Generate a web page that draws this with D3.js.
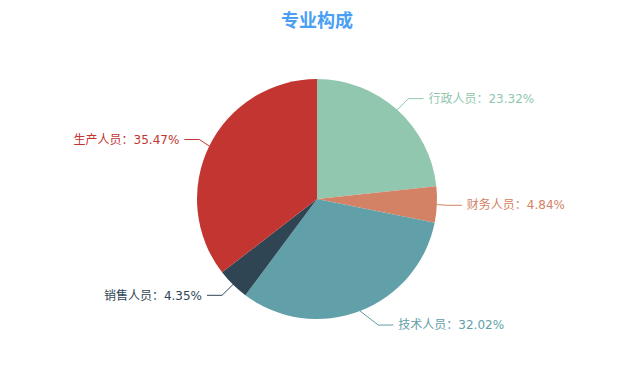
<!DOCTYPE html>
<html>
<head>
<meta charset="utf-8">
<script src="https://cdn.jsdelivr.net/npm/d3@7"></script>
<style>
  body { margin: 0; background: #fff; }
  svg { display: block; font-family: "DejaVu Sans", "Noto Sans CJK SC", sans-serif; }
</style>
</head>
<body>
<div id="chart"></div>
<script>
// chart data, clockwise from 12 o'clock
const names = ["行政人员", "财务人员", "技术人员", "销售人员", "生产人员"];
const shares = [23.32, 4.84, 32.02, 4.35, 35.47];
const colors = ["#91c7ae", "#d48265", "#61a0a8", "#2f4554", "#c23531"];

const width = 618;
const height = 382;
const cx = 317, cy = 199;
const radius = 120;

const svg = d3.select("#chart")
    .append("svg")
    .attr("width", width)
    .attr("height", height);

svg.append("text")
    .attr("x", cx)
    .attr("y", 27)
    .attr("text-anchor", "middle")
    .attr("font-size", 18)
    .attr("font-weight", "bold")
    .attr("fill", "#4a9ff5")
    .style("font-family", "'Noto Sans CJK SC', sans-serif")
    .text("专业构成");

const data = names.map((n, i) => ({ name: n, value: shares[i], color: colors[i] }));

const pie = d3.pie().sort(null).value(d => d.value);
const arcs = pie(data);

const arc = d3.arc().innerRadius(0).outerRadius(radius);

const g = svg.append("g").attr("transform", `translate(${cx},${cy})`);

g.selectAll("path.slice")
    .data(arcs)
    .join("path")
    .attr("class", "slice")
    .attr("d", arc)
    .attr("fill", d => d.data.color);

// label lines: radial segment, then horizontal segment,
// x pushed onto a circle of r + len1 + len2 (echarts-like)
const len1 = 15, len2 = 15, gap = 5;
const outer = radius + len1 + len2;
arcs.forEach(function(d) {
    const a = (d.startAngle + d.endAngle) / 2;
    const sx = Math.sin(a), sy = -Math.cos(a);
    const dir = sx >= 0 ? 1 : -1;
    const p0 = [sx * radius, sy * radius];
    const ly = sy * (radius + len1);
    const lx = dir * Math.sqrt(outer * outer - ly * ly);
    const p2 = [lx - dir * gap, ly];
    const p1 = [p2[0] - dir * len2, ly];

    g.append("polyline")
        .attr("points", [p0, p1, p2].map(p => p.join(",")).join(" "))
        .attr("fill", "none")
        .attr("stroke", d.data.color)
        .attr("stroke-width", 1);

    g.append("text")
        .attr("x", lx)
        .attr("y", ly)
        .attr("dy", "0.35em")
        .attr("text-anchor", dir > 0 ? "start" : "end")
        .attr("font-size", 12)
        .attr("fill", d.data.color)
        .text(`${d.data.name}：${d.data.value.toFixed(2)}%`);
});
</script>
</body>
</html>
